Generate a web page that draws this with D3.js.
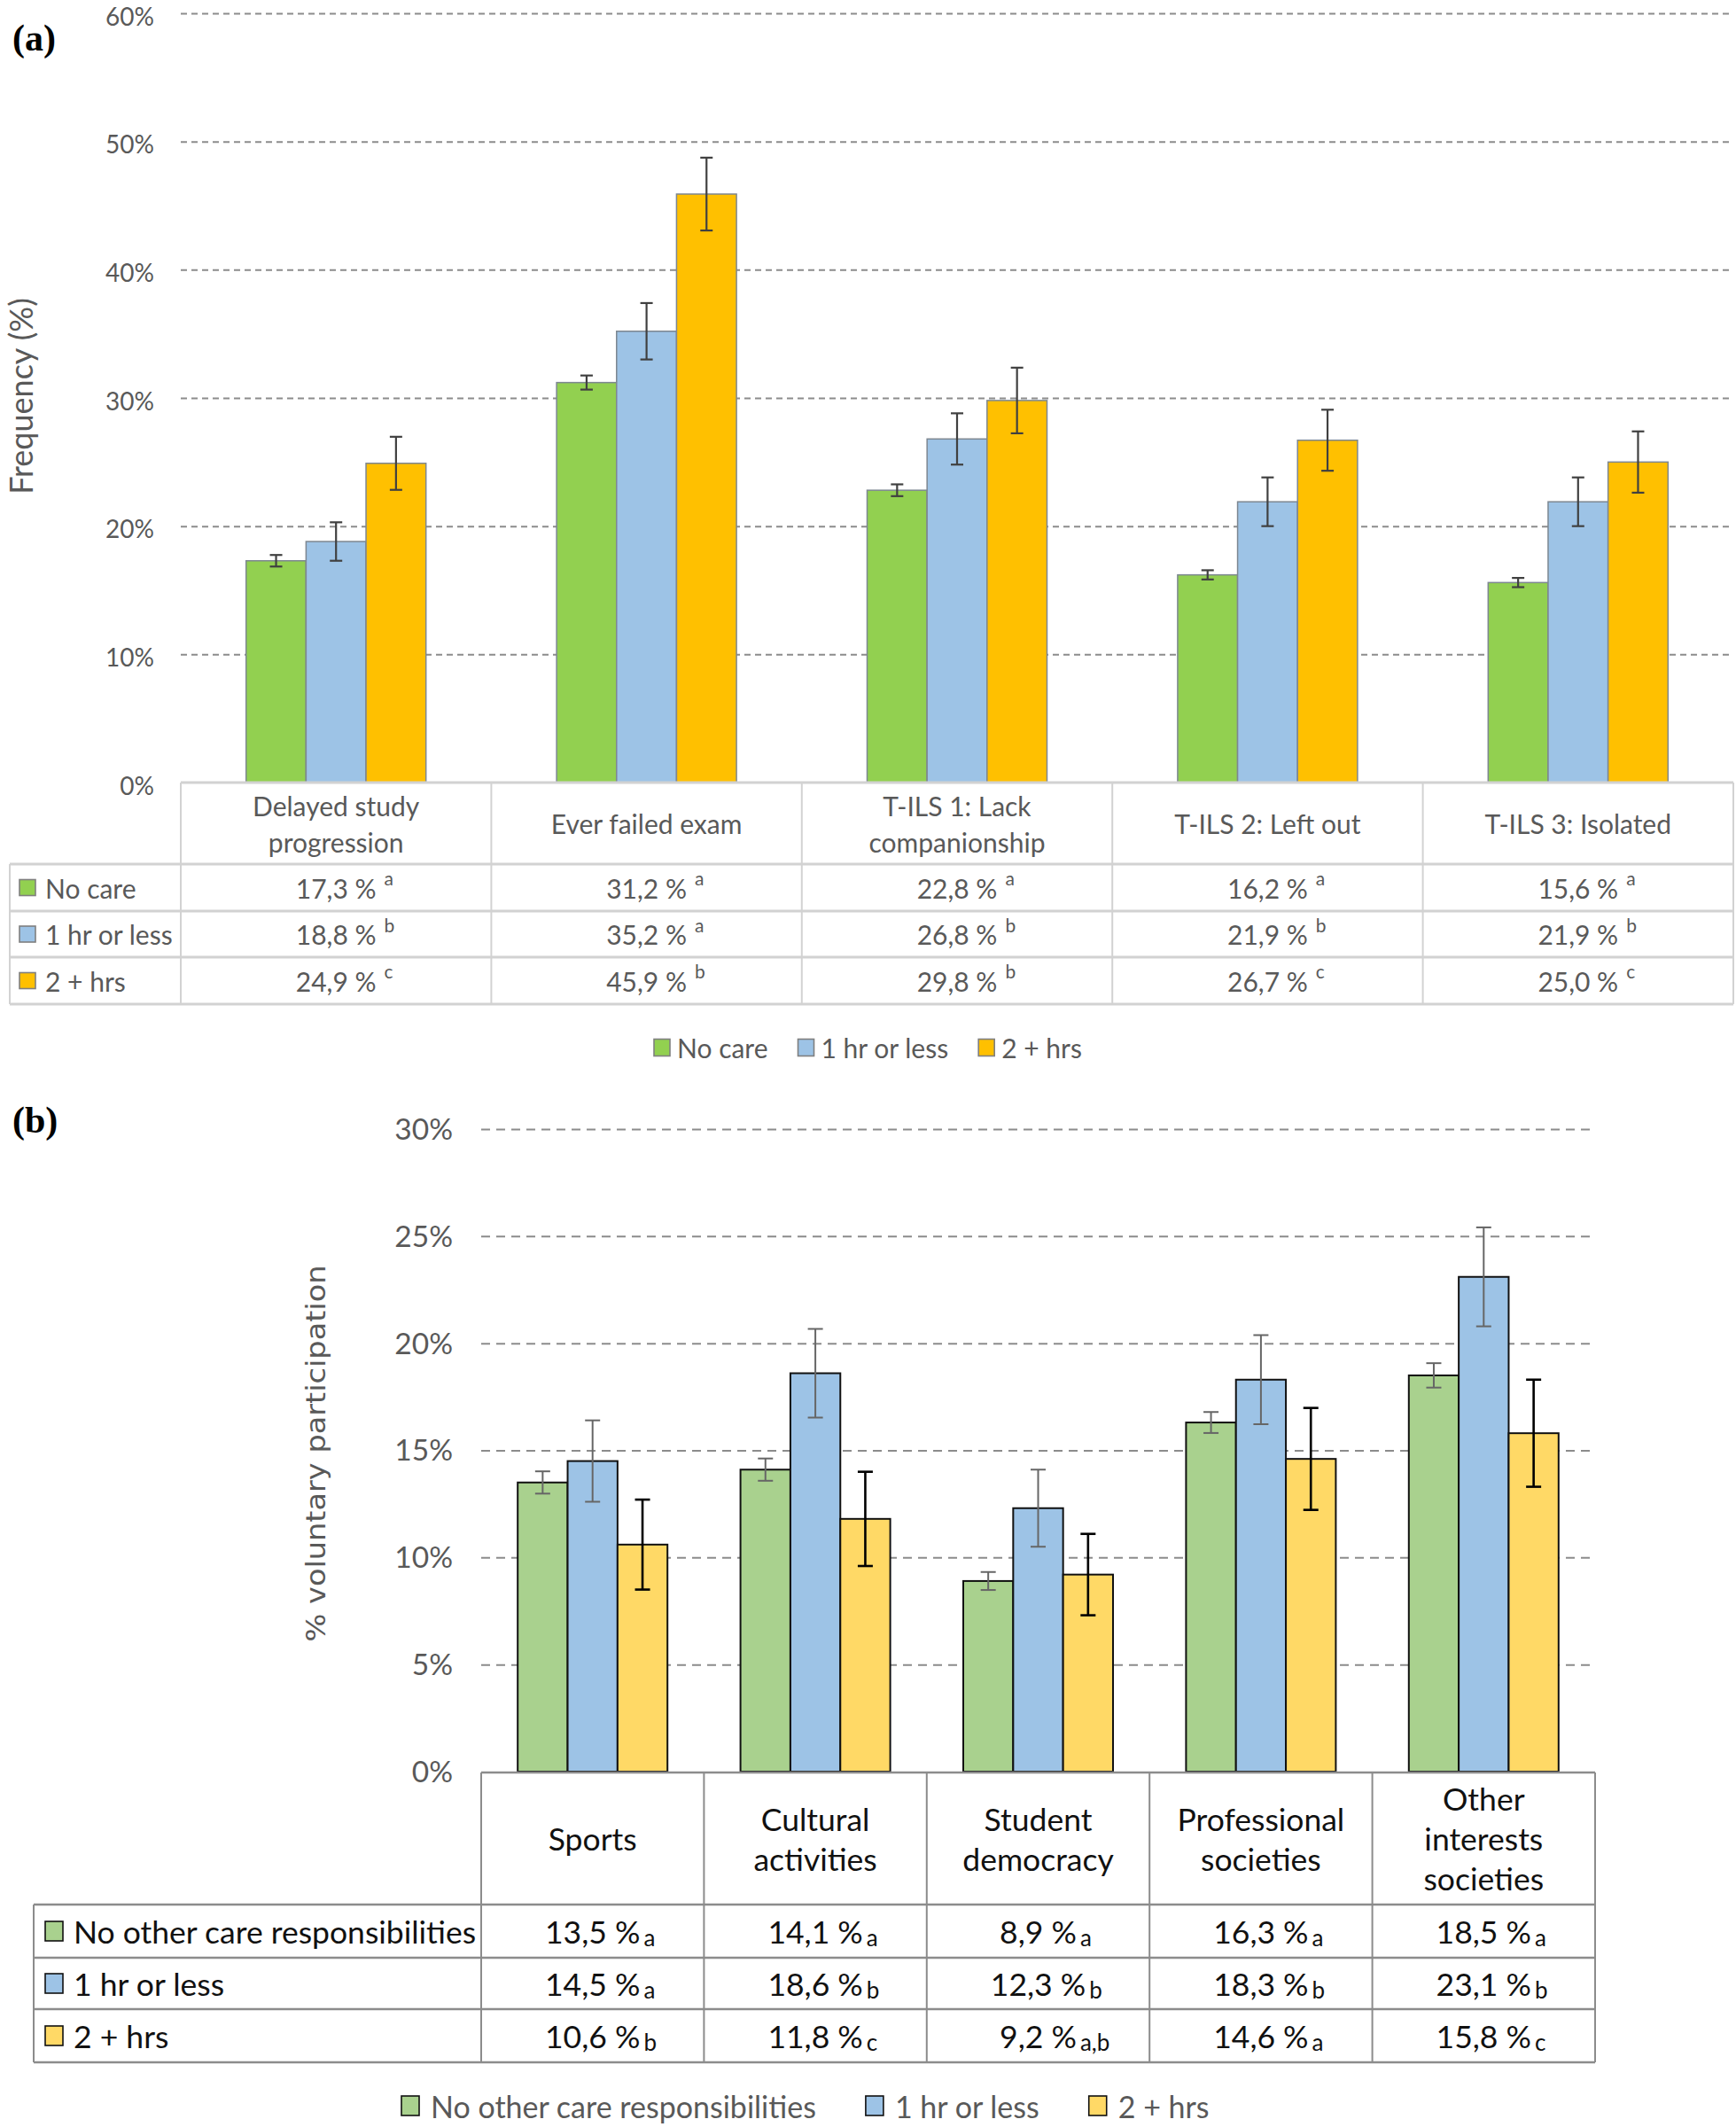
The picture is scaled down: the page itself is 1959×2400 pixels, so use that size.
<!DOCTYPE html>
<html><head><meta charset="utf-8">
<script src="https://cdn.jsdelivr.net/npm/d3@7"></script>
<style>body{margin:0;background:#fff} svg{display:block}</style>
</head><body>
<svg id="chart" width="1959" height="2400"></svg>
<script>
// ---------- Panel (a) data ----------
const categoriesA = ["Delayed study progression", "Ever failed exam", "T-ILS 1: Lack companionship", "T-ILS 2: Left out", "T-ILS 3: Isolated"];
const headerLinesA = [["Delayed study", "progression"], ["Ever failed exam"], ["T-ILS 1: Lack", "companionship"], ["T-ILS 2: Left out"], ["T-ILS 3: Isolated"]];
const seriesA = ["No care", "1 hr or less", "2 + hrs"];
const noCareA = [17.3, 31.2, 22.8, 16.2, 15.6];
const oneHrA = [18.8, 35.2, 26.8, 21.9, 21.9];
const twoHrsA = [24.9, 45.9, 29.8, 26.7, 25.0];
const errNoCareA = [0.45, 0.55, 0.46, 0.36, 0.36];
const errOneHrA = [1.5, 2.2, 2.0, 1.9, 1.9];
const errTwoHrsA = [2.07, 2.84, 2.56, 2.38, 2.39];
const supNoCareA = ["a", "a", "a", "a", "a"];
const supOneHrA = ["b", "a", "b", "b", "b"];
const supTwoHrsA = ["c", "b", "b", "c", "c"];
const yTicksA = [0, 10, 20, 30, 40, 50, 60];
const colorsA = ["#92D050", "#9DC3E6", "#FFC000"];

// ---------- Panel (b) data ----------
const categoriesB = ["Sports", "Cultural activities", "Student democracy", "Professional societies", "Other interests societies"];
const headerLinesB = [["Sports"], ["Cultural", "activities"], ["Student", "democracy"], ["Professional", "societies"], ["Other", "interests", "societies"]];
const seriesB = ["No other care responsibilities", "1 hr or less", "2 + hrs"];
const noOtherB = [13.5, 14.1, 8.9, 16.3, 18.5];
const oneHrB = [14.5, 18.6, 12.3, 18.3, 23.1];
const twoHrsB = [10.6, 11.8, 9.2, 14.6, 15.8];
const errNoOtherB = [0.52, 0.52, 0.42, 0.49, 0.57];
const errOneHrB = [1.9, 2.07, 1.8, 2.08, 2.31];
const errTwoHrsB = [2.1, 2.2, 1.9, 2.38, 2.5];
const subNoOtherB = ["a", "a", "a", "a", "a"];
const subOneHrB = ["a", "b", "b", "b", "b"];
const subTwoHrsB = ["b", "c", "a,b", "a", "c"];
const yTicksB = [0, 5, 10, 15, 20, 25, 30];
const colorsB = ["#A9D18E", "#9DC3E6", "#FFD966"];

const FONT = "Lato, Carlito, Calibri, 'Open Sans', sans-serif";
const svg = d3.select("#chart");
const fmt = v => v.toFixed(1).replace(".", ",") + " %";

function drawPanel(o) {
  const g = svg.append("g");
  const x0 = d3.scaleBand().domain(o.categories).range([o.left, o.right]).padding(0);
  const x1 = d3.scaleBand().domain(o.series).range([-o.groupW / 2, o.groupW / 2]).padding(0);
  const y = d3.scaleLinear().domain([0, o.yMax]).range([o.base, o.top]);

  // grid via axis
  const ax = g.append("g").attr("transform", `translate(${o.left},0)`)
    .call(d3.axisLeft(y).tickValues(o.yTicks).tickSize(-(o.right - o.left)).tickPadding(o.tickPad).tickFormat(d => d + "%"));
  ax.select(".domain").remove();
  ax.selectAll(".tick line").attr("stroke", o.gridColor).attr("stroke-width", 2).attr("stroke-dasharray", o.dash)
    .attr("display", d => d === 0 ? "none" : null);
  ax.selectAll(".tick text").attr("fill", "#595959").attr("font-family", FONT).attr("font-size", o.tickFont).attr("dy", o.tickDy);

  // bars
  const seriesVals = o.values;
  o.series.forEach((s, si) => {
    const vals = seriesVals[si];
    const sg = g.append("g");
    sg.selectAll("rect").data(vals).join("rect")
      .attr("x", (d, i) => x0(o.categories[i]) + x0.bandwidth() / 2 + x1(s))
      .attr("width", x1.bandwidth())
      .attr("y", d => y(d)).attr("height", d => y(0) - y(d))
      .attr("fill", o.colors[si]).attr("stroke", o.barStroke).attr("stroke-width", o.barStrokeW);
  });
  o.series.forEach((s, si) => {
    const vals = seriesVals[si];
    const errs = o.errors[si];
    const ec = o.errColors[si], ew = o.errWidths[si];
    const eg = g.append("g").attr("stroke", ec).attr("stroke-width", ew);
    vals.forEach((v, i) => {
      const cx = x0(o.categories[i]) + x0.bandwidth() / 2 + x1(s) + x1.bandwidth() / 2;
      const y1 = y(v + errs[i]), y2 = y(v - errs[i]);
      eg.append("line").attr("x1", cx).attr("x2", cx).attr("y1", y1).attr("y2", y2);
      eg.append("line").attr("x1", cx - o.cap / 2).attr("x2", cx + o.cap / 2).attr("y1", y1).attr("y2", y1);
      eg.append("line").attr("x1", cx - o.cap / 2).attr("x2", cx + o.cap / 2).attr("y1", y2).attr("y2", y2);
    });
  });

  // table
  const tg = svg.append("g");
  const hs = o.rowLines; // [top, headerBottom, r1, r2, bottom]
  const lineAttr = sel => sel.attr("stroke", o.tableColor).attr("stroke-width", o.tableW);
  lineAttr(tg.append("line").attr("x1", o.left).attr("x2", o.right).attr("y1", hs[0]).attr("y2", hs[0]));
  hs.slice(1).forEach(hy => lineAttr(tg.append("line").attr("x1", o.tableLeft).attr("x2", o.right).attr("y1", hy).attr("y2", hy)));
  const bounds = o.categories.map(c => x0(c)).concat([o.right]);
  bounds.forEach(bx => tg.append("line").attr("x1", bx).attr("x2", bx).attr("y1", hs[0]).attr("y2", hs[4])
    .attr("stroke", o.tableColor).attr("stroke-width", o.tableVW));
  tg.append("line").attr("x1", o.tableLeft).attr("x2", o.tableLeft).attr("y1", hs[1]).attr("y2", hs[4])
    .attr("stroke", o.tableColor).attr("stroke-width", o.tableVW);

  // headers
  const hc = (hs[0] + hs[1]) / 2;
  o.headerLines.forEach((lines, i) => {
    const cx = x0(o.categories[i]) + x0.bandwidth() / 2;
    lines.forEach((ln, li) => {
      tg.append("text").attr("x", cx).attr("y", hc + (li - (lines.length - 1) / 2) * o.headerLH)
        .attr("text-anchor", "middle").attr("dominant-baseline", "central")
        .attr("font-family", FONT).attr("font-size", o.tableFont).attr("fill", o.tableText).text(ln);
    });
  });
  // rows
  o.series.forEach((s, si) => {
    const cy = (hs[si + 1] + hs[si + 2]) / 2;
    tg.append("rect").attr("x", o.rowSq.x).attr("y", cy - o.rowSq.h / 2).attr("width", o.rowSq.w).attr("height", o.rowSq.h)
      .attr("fill", o.colors[si]).attr("stroke", o.sqStroke).attr("stroke-width", 1.6);
    tg.append("text").attr("x", o.rowTextX).attr("y", cy).attr("dominant-baseline", "central")
      .attr("font-family", FONT).attr("font-size", o.tableFont).attr("fill", o.tableText).text(s);
    seriesVals[si].forEach((v, i) => {
      const cx = x0(o.categories[i]) + x0.bandwidth() / 2;
      const t = tg.append("text").attr("x", cx).attr("y", cy).attr("text-anchor", "middle").attr("dominant-baseline", "central")
        .attr("font-family", FONT).attr("font-size", o.tableFont).attr("fill", o.tableText).text(fmt(v));
      const w = t.node().getComputedTextLength();
      tg.append("text").attr("x", cx + w / 2 + o.markGap).attr("y", cy + o.markDy).attr("dominant-baseline", "central")
        .attr("font-family", FONT).attr("font-size", o.markFont).attr("fill", o.tableText).text(o.marks[si][i]);
    });
  });

  // legend
  const lg = svg.append("g");
  let lx = o.legend.x;
  o.series.forEach((s, si) => {
    lg.append("rect").attr("x", lx).attr("y", o.legend.y - o.legend.sqH / 2).attr("width", o.legend.sqW).attr("height", o.legend.sqH)
      .attr("fill", o.colors[si]).attr("stroke", o.sqStroke).attr("stroke-width", 1.6);
    const t = lg.append("text").attr("x", lx + o.legend.sqW + o.legend.gap1).attr("y", o.legend.y).attr("dominant-baseline", "central")
      .attr("font-family", FONT).attr("font-size", o.legend.font).attr("fill", "#595959").text(s);
    lx += o.legend.sqW + o.legend.gap1 + t.node().getComputedTextLength() + o.legend.gap2;
  });
}

drawPanel({
  categories: categoriesA, series: seriesA, headerLines: headerLinesA,
  values: [noCareA, oneHrA, twoHrsA], errors: [errNoCareA, errOneHrA, errTwoHrsA],
  marks: [supNoCareA, supOneHrA, supTwoHrsA], markDy: -11, markFont: 21, markGap: 9,
  colors: colorsA, left: 204, right: 1956, groupW: 203, top: 15, base: 883, yMax: 60, yTicks: yTicksA,
  tickPad: 30, tickFont: 28, tickDy: "0.47em", gridColor: "#8c8c8c", dash: "7,5",
  barStroke: "#7d8791", barStrokeW: 1.5, errColors: ["#404040", "#404040", "#404040"], errWidths: [2.2, 2.2, 2.2], cap: 14,
  rowLines: [883, 975, 1028, 1080, 1133], tableLeft: 11, tableColor: "#d2d2d2", tableW: 3, tableVW: 2,
  tableFont: 30, tableText: "#595959", headerLH: 41, rowSq: { x: 22, w: 18, h: 18 }, rowTextX: 51, sqStroke: "#7f7f7f",
  legend: { x: 738, y: 1182, sqW: 18, sqH: 19, gap1: 8, gap2: 34, font: 30 }
});

drawPanel({
  categories: categoriesB, series: seriesB, headerLines: headerLinesB,
  values: [noOtherB, oneHrB, twoHrsB], errors: [errNoOtherB, errOneHrB, errTwoHrsB],
  marks: [subNoOtherB, subOneHrB, subTwoHrsB], markDy: 7, markFont: 26, markGap: 4,
  colors: colorsB, left: 543, right: 1800, groupW: 169, top: 1274, base: 1999, yMax: 30, yTicks: yTicksB,
  tickPad: 32, tickFont: 33.5, tickDy: "0.34em", gridColor: "#8c8c8c", dash: "10,7",
  barStroke: "#111", barStrokeW: 2, errColors: ["#666", "#666", "#000"], errWidths: [2, 2, 2.6], cap: 17,
  rowLines: [2000, 2149, 2209, 2267, 2327], tableLeft: 38, tableColor: "#8c8c8c", tableW: 2.5, tableVW: 2,
  tableFont: 35.5, tableText: "#111", headerLH: 45, rowSq: { x: 51, w: 20, h: 22 }, rowTextX: 83, sqStroke: "#111",
  legend: { x: 453, y: 2376, sqW: 20, sqH: 22, gap1: 13, gap2: 56, font: 34 }
});

// panel labels
svg.append("text").attr("x", 14).attr("y", 57).attr("font-family", "'Liberation Serif', 'Times New Roman', serif")
  .attr("font-weight", "bold").attr("font-size", 42).text("(a)");
svg.append("text").attr("x", 14).attr("y", 1278).attr("font-family", "'Liberation Serif', 'Times New Roman', serif")
  .attr("font-weight", "bold").attr("font-size", 42).text("(b)");

// axis titles
svg.append("text").attr("transform", "translate(23,447) rotate(-90)").attr("text-anchor", "middle").attr("dominant-baseline", "central")
  .attr("font-family", FONT).attr("font-size", 36).attr("fill", "#595959").text("Frequency (%)");
svg.append("text").attr("transform", "translate(356,1640) rotate(-90)").attr("text-anchor", "middle").attr("dominant-baseline", "central")
  .attr("font-family", "'DejaVu Sans', Verdana, sans-serif").attr("font-size", 31).attr("fill", "#595959")
  .attr("textLength", 425).attr("lengthAdjust", "spacingAndGlyphs").text("% voluntary participation");
</script></body></html>
